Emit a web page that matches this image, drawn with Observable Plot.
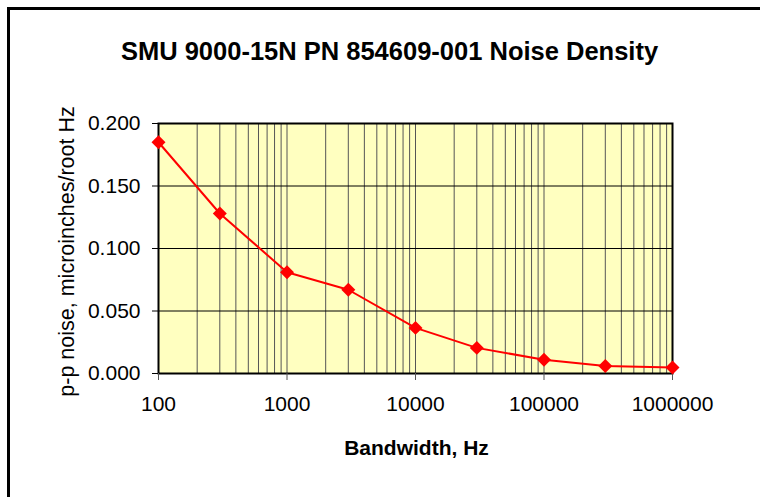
<!DOCTYPE html>
<html><head><meta charset="utf-8">
<script src="https://cdn.jsdelivr.net/npm/d3@7"></script>
<script src="https://cdn.jsdelivr.net/npm/@observablehq/plot@0.6"></script>
<style>
html,body{margin:0;padding:0;background:#fff;overflow:hidden}
#wrap{position:relative;width:760px;height:497px;overflow:hidden;background:#fff}
#border{position:absolute;left:7px;top:7px;width:900px;height:700px;border:3px solid #000;pointer-events:none}
</style></head><body><div id="wrap"><div id="border"></div></div>
<script>
const titleText = "SMU 9000-15N PN 854609-001 Noise Density";
const xLabel = "Bandwidth, Hz";
const yLabel = "p-p noise, microinches/root Hz";
const bandwidth = [100, 300, 1000, 3000, 10000, 30000, 100000, 300000, 1000000];
const noise = [0.185, 0.128, 0.081, 0.067, 0.0365, 0.0205, 0.011, 0.006, 0.0048];
const xTicks = [100, 1000, 10000, 100000, 1000000];
const yTicks = [0, 0.05, 0.1, 0.15, 0.2];
const yGrid = [0.05, 0.1, 0.15];
const data = bandwidth.map((b, i) => ({b, n: noise[i]}));
const chart = Plot.plot({
  width: 760, height: 497,
  marginLeft: 158, marginRight: 88, marginTop: 123, marginBottom: 124,
  style: {fontFamily: "'Liberation Sans', Arial, sans-serif", fontSize: "21px", color: "#000", background: "transparent", overflow: "visible"},
  x: {type: "log", domain: [100, 1e6]},
  y: {domain: [0, 0.2]},
  marks: [
    Plot.frame({fill: "#ffffc0", stroke: null}),
    Plot.gridX(d3.scaleLog().domain([100, 1e6]).ticks(), {stroke: "#555", strokeOpacity: 1, strokeWidth: 1}),
    Plot.gridY(yGrid, {stroke: "#000", strokeOpacity: 1, strokeWidth: 1}),
    Plot.frame({stroke: "#000", strokeWidth: 2}),
    Plot.axisX(xTicks, {tickSize: 7, tickPadding: 16, tickFormat: d => String(d), stroke: "#555", fill: "#000", label: null}),
    Plot.axisY(yTicks, {tickSize: 6, tickPadding: 12, tickFormat: d3.format(".3f"), stroke: "#000", fill: "#000", label: null}),
    Plot.line(data, {x: "b", y: "n", stroke: "#ff0000", strokeWidth: 2}),
    Plot.dot(data, {x: "b", y: "n", symbol: "diamond2", fill: "#ff0000", stroke: null, r: 6.3}),
    Plot.text([titleText], {text: d => d, frameAnchor: "top", lineAnchor: "top", dx: -26, dy: -81.6, fontSize: 25.5, fontWeight: "bold", fill: "#000"}),
    Plot.text([xLabel], {text: d => d, frameAnchor: "bottom", lineAnchor: "top", dx: 1, dy: 66.7, fontSize: 21, fontWeight: "bold", fill: "#000"}),
    Plot.text([yLabel], {text: d => d, frameAnchor: "left", textAnchor: "middle", lineAnchor: "top", rotate: -90, dx: -99.7, dy: 3, fontSize: 21.5, fill: "#000"})
  ]
});
document.getElementById("wrap").prepend(chart);
</script>
</body></html>
